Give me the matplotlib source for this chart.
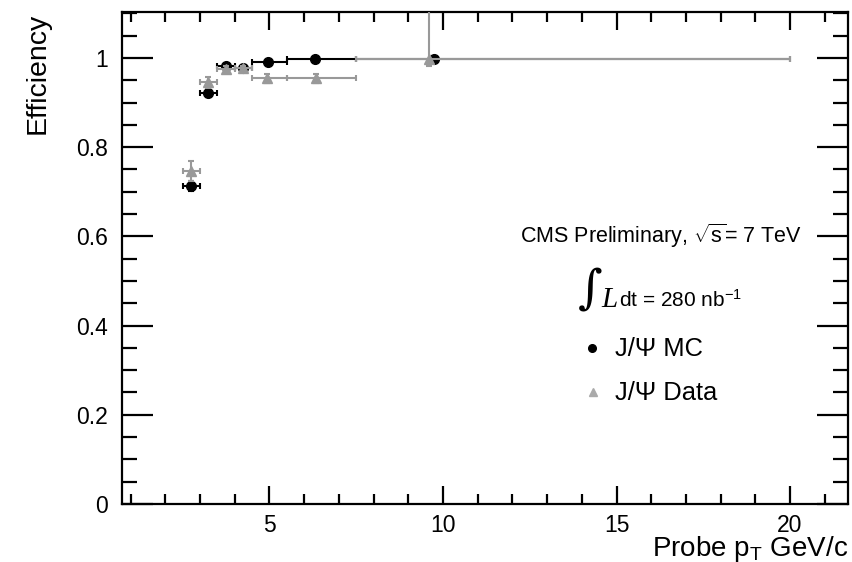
import matplotlib
matplotlib.use("Agg")
import matplotlib.pyplot as plt
from matplotlib.ticker import MultipleLocator, FixedLocator
import numpy as np

plt.rcParams['font.family'] = ['Liberation Sans', 'DejaVu Sans']
plt.rcParams['mathtext.fontset'] = 'custom'
plt.rcParams['mathtext.rm'] = 'Liberation Sans'
plt.rcParams['mathtext.it'] = 'Liberation Sans:italic'

# Probe pT bins (GeV/c) and mean pT inside each bin
bin_lo = [2.5, 3.0, 3.5, 4.0, 4.5, 5.5, 7.5]
bin_hi = [3.0, 3.5, 4.0, 4.5, 5.5, 7.5, 20.0]
mc_pt = [2.75, 3.24, 3.75, 4.25, 4.95, 6.30, 9.73]
data_pt = [2.75, 3.24, 3.75, 4.23, 4.92, 6.34, 9.59]

# Efficiencies with uncertainties
mc_eff = [0.713, 0.921, 0.982, 0.978, 0.990, 0.997, 0.998]
mc_err = [0.012, 0.008, 0.004, 0.004, 0.004, 0.003, 0.002]
data_eff = [0.747, 0.945, 0.976, 0.977, 0.954, 0.954, 0.997]
data_err_lo = [0.022, 0.012, 0.006, 0.006, 0.010, 0.010, 0.014]
data_err_hi = [0.022, 0.012, 0.006, 0.006, 0.010, 0.010, 0.150]

W, H = 853, 562
fig = plt.figure(figsize=(W / 100, H / 100), dpi=100)
ax = fig.add_axes([121.7 / W, 1 - 504 / H, (848 - 121.7) / W, (504 - 12) / H])

gray = '#999999'

def xerr(pt):
    pt = np.array(pt)
    return [pt - np.array(bin_lo), np.array(bin_hi) - pt]

ax.errorbar(mc_pt, mc_eff, yerr=mc_err, xerr=xerr(mc_pt), fmt='o', color='black',
            ms=7, elinewidth=1.5, capsize=2, capthick=1.5, zorder=3)
ax.errorbar(data_pt, data_eff, yerr=[data_err_lo, data_err_hi], xerr=xerr(data_pt),
            fmt='^', color=gray, ms=7, elinewidth=1.5, capsize=2, capthick=1.5, zorder=4)

ax.set_xlim(0.742, 21.67)
ax.set_ylim(0, 1.103)

for s in ax.spines.values():
    s.set_linewidth(1.6)

ax.xaxis.set_major_locator(FixedLocator([5, 10, 15, 20]))
ax.xaxis.set_minor_locator(MultipleLocator(1))
ax.yaxis.set_major_locator(FixedLocator([0, 0.2, 0.4, 0.6, 0.8, 1.0]))
ax.yaxis.set_minor_locator(MultipleLocator(0.05))
ax.set_yticklabels(['0', '0.2', '0.4', '0.6', '0.8', '1'])
ax.tick_params(axis='both', which='both', direction='in', top=True, right=True,
               labelsize=16.5, width=1.6, color='black')
ax.tick_params(axis='x', which='major', length=13, pad=7)
ax.tick_params(axis='x', which='minor', length=7)
ax.tick_params(axis='y', which='major', length=22, pad=10)
ax.tick_params(axis='y', which='minor', length=11)

def fx(px):
    return px / W

def fy(py):
    return 1 - py / H

fig.text(fx(38), fy(13), 'Efficiency', rotation=90, ha='center', va='top', fontsize=20.5)
fig.text(fx(848), fy(556), r'Probe p$_{\mathrm{T}}$ GeV/c', ha='right', va='baseline', fontsize=20)

fig.text(fx(520), fy(236), r'CMS Preliminary, $\sqrt{\mathrm{s}}$= 7 TeV', ha='left', va='center', fontsize=15.5)
fig.text(fx(578), fy(290), '\u222b', ha='left', va='center', fontsize=34,
         family=['DejaVu Serif'])
fig.text(fx(601), fy(307), 'L', ha='left', va='baseline', fontsize=21,
         family=['Liberation Serif'], style='italic')
fig.text(fx(619), fy(307), r'dt = 280 nb$^{\mathrm{-1}}$', ha='left', va='baseline', fontsize=15)

# Legend entries
fig.lines.append(plt.Line2D([fx(592)], [fy(348)], marker='o', color='black', ms=5.5,
                            transform=fig.transFigure))
fig.lines.append(plt.Line2D([fx(593)], [fy(392)], marker='^', color='#aaaaaa', ms=5.5,
                            transform=fig.transFigure))
fig.text(fx(615), fy(349), 'J/\u03a8 MC', ha='left', va='center', fontsize=18.4)
fig.text(fx(615), fy(393), 'J/\u03a8 Data', ha='left', va='center', fontsize=18.4)

fig.savefig('out.png', dpi=100)
